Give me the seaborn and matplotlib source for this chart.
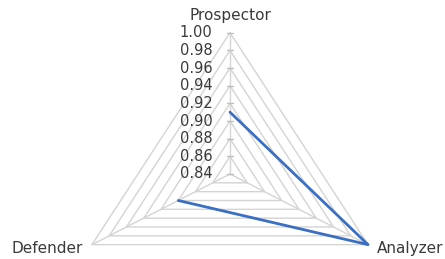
import numpy as np
import pandas as pd
import matplotlib
matplotlib.use("Agg")
import matplotlib.pyplot as plt
import seaborn as sns

sns.set_theme(style="white")
plt.rcParams['font.family'] = ['DejaVu Sans']

categories = ['Prospector', 'Analyzer', 'Defender']
values = [0.91, 1.00, 0.90]
ticks = [0.84, 0.86, 0.88, 0.90, 0.92, 0.94, 0.96, 0.98, 1.00]
rmin, rmax = 0.84, 1.00

angles = np.deg2rad([90, -30, 210])


def to_xy(vals):
    r = (np.asarray(vals) - rmin) / (rmax - rmin)
    return r * np.cos(angles), r * np.sin(angles)


fig = plt.figure(figsize=(4.45, 2.59), dpi=100)
ax = fig.add_axes([0, 0, 1, 1])
ax.set_xlim(-230 / 159.4, 215 / 159.4)
ax.set_ylim(-85 / 141.3, 174 / 141.3)
ax.axis('off')

grid_col = '#d4d4d4'
txt_col = '#3a3a3a'
# triangular grid
for t in ticks[1:]:
    gx, gy = to_xy([t] * 3)
    ax.plot(np.append(gx, gx[0]), np.append(gy, gy[0]), color=grid_col, lw=1, zorder=1)
# spokes
for a in angles:
    ax.plot([0, np.cos(a)], [0, np.sin(a)], color=grid_col, lw=1, zorder=1)
# tick marks + labels on the vertical axis
for t in ticks:
    _, ty = to_xy([t] * 3)
    ax.plot([-0.018, 0.018], [ty[0], ty[0]], color='#bfbfbf', lw=1, zorder=1)
    ax.text(-0.11, ty[0], f'{t:.2f}', ha='right', va='center', fontsize=10.5, color=txt_col)

# data polygon
px, py = to_xy(values)
df = pd.DataFrame({'x': np.append(px, px[0]), 'y': np.append(py, py[0])})
sns.lineplot(data=df, x='x', y='y', sort=False, color='#3a6fc4', lw=2, ax=ax, zorder=3)
ax.axis('off')

# category labels
ax.text(0, 1.0 + 17 / 141.3, categories[0], ha='center', va='center', fontsize=11, color=txt_col)
ax.text(np.cos(angles[1]) + 9 / 159.4, np.sin(angles[1]) - 4 / 141.3, categories[1],
        ha='left', va='center', fontsize=11, color=txt_col)
ax.text(np.cos(angles[2]) - 9 / 159.4, np.sin(angles[2]) - 4 / 141.3, categories[2],
        ha='right', va='center', fontsize=11, color=txt_col)

fig.savefig('out.png', dpi=100)
